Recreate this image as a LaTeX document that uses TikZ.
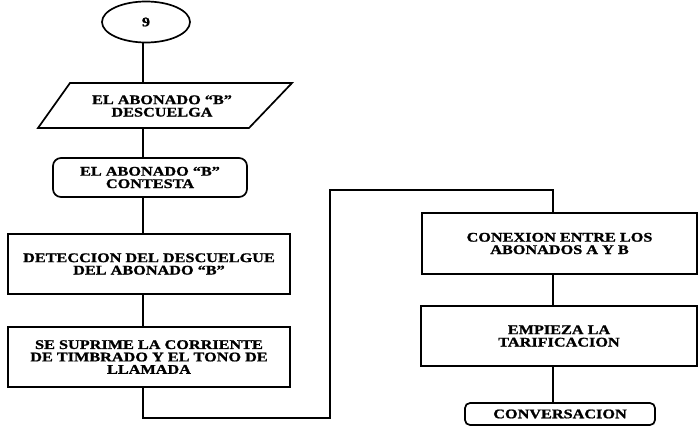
\documentclass[tikz,border=0pt]{standalone}
\usepackage{fontspec}
\setmainfont{Liberation Serif}[FakeStretch=1.23, BoldFeatures={FakeBold=1.2}]
\usetikzlibrary{shapes.geometric}
\begin{document}
\begin{tikzpicture}[x=1pt,y=-1pt,
  every node/.style={font=\bfseries\fontsize{13.2}{12.4}\selectfont, align=center, inner sep=0pt},
  line/.style={line width=1.7pt, line cap=rect, line join=miter},
  stepbox/.style={draw, line width=1.7pt, rectangle},
  roundbox/.style={draw, line width=1.7pt, rectangle, rounded corners=8pt},
  startnode/.style={draw, line width=1.7pt, ellipse}]
\useasboundingbox (0,0) rectangle (698,426);

% left column
\node[startnode, minimum width=88pt, minimum height=41pt] (e) at (146,22) {9};
\coordinate (spine) at (143,0);

% input parallelogram
\coordinate (pa) at (70,83);
\coordinate (pb) at (292,83);
\coordinate (pc) at (249,128);
\coordinate (pd) at (38,128);
\draw[line] (pa) -- (pb) -- (pc) -- (pd) -- cycle;
\node[minimum height=45pt, minimum width=180pt] (p) at (162,106) {EL ABONADO ``B''\\DESCUELGA};

\node[roundbox, minimum width=194pt, minimum height=39pt] (r1) at (150,177.5) {EL ABONADO ``B''\\CONTESTA};
\node[stepbox, minimum width=282pt, minimum height=60pt] (b1) at (149,264) {DETECCION DEL DESCUELGUE\\DEL ABONADO ``B''};
\node[stepbox, minimum width=282pt, minimum height=60pt] (b2) at (149,357) {SE SUPRIME LA CORRIENTE\\DE TIMBRADO Y EL TONO DE\\LLAMADA};

% right column
\node[stepbox, minimum width=275pt, minimum height=61pt] (b3) at (559.5,243.5) {CONEXION ENTRE LOS\\ABONADOS A Y B};
\node[stepbox, minimum width=276pt, minimum height=60pt] (b4) at (559,336) {EMPIEZA LA\\TARIFICACION};
\node[roundbox, rounded corners=5pt, minimum width=190pt, minimum height=22pt] (r2) at (560,414) {CONVERSACION};

% connectors
\draw[line] (spine |- e.south) -- (spine |- p.north);
\draw[line] (spine |- p.south) -- (spine |- r1.north);
\draw[line] (spine |- r1.south) -- (spine |- b1.north);
\draw[line] (spine |- b1.south) -- (spine |- b2.north);
\coordinate (c1) at (330,418);
\coordinate (c2) at (553,190);
\draw[line] (spine |- b2.south) |- (c1) -- (c1 |- c2) -- (c2) -- (c2 |- b3.north);
\draw[line] (c2 |- b3.south) -- (c2 |- b4.north);
\draw[line] (c2 |- b4.south) -- (c2 |- r2.north);
\end{tikzpicture}
\end{document}
